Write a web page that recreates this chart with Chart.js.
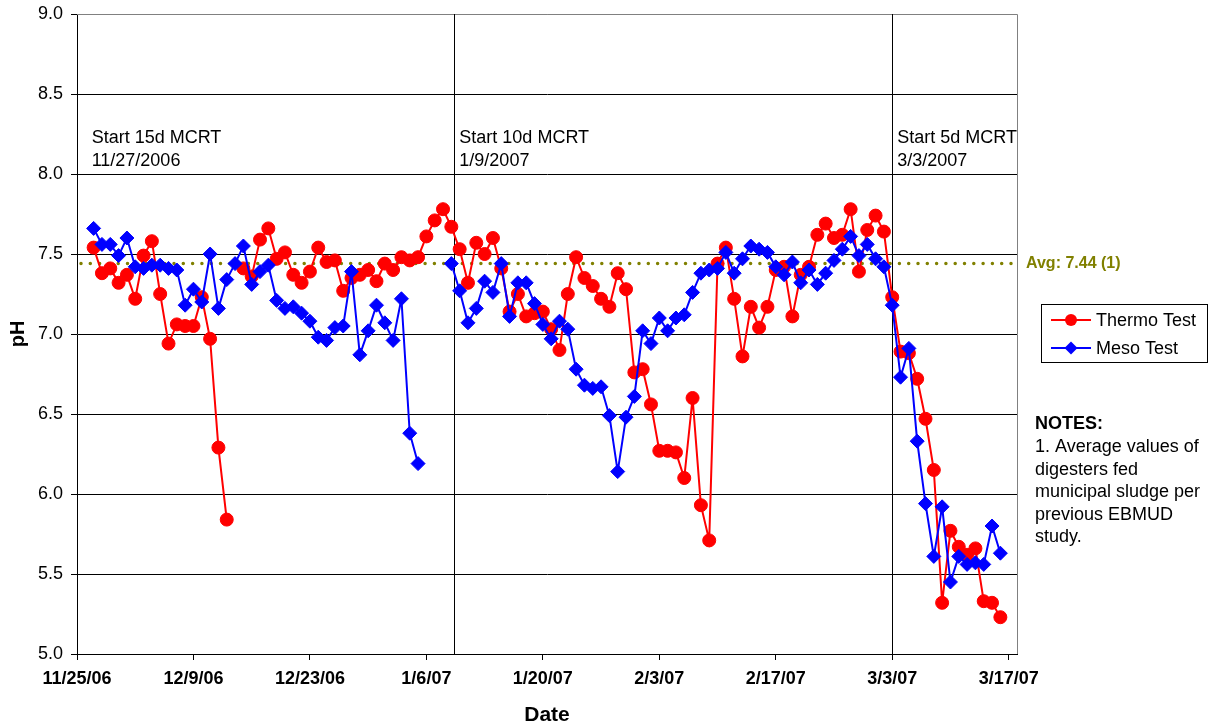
<!DOCTYPE html>
<html>
<head>
<meta charset="utf-8">
<script src="https://cdn.jsdelivr.net/npm/chart.js@4.4.0/dist/chart.umd.min.js"></script>
<style>
  body { margin: 0; background: #fff; }
  canvas { display: block; }
</style>
</head>
<body>
<canvas id="chart" width="1209" height="726"></canvas>
<script>
// sample dates (m/d/yy)
var dates = [
  '11/27/06', '11/28/06', '11/29/06', '11/30/06',
  '12/1/06', '12/2/06', '12/3/06', '12/4/06', '12/5/06', '12/6/06', '12/7/06', '12/8/06', '12/9/06', '12/10/06',
  '12/11/06', '12/12/06', '12/13/06', '12/14/06', '12/15/06', '12/16/06', '12/17/06', '12/18/06', '12/19/06', '12/20/06',
  '12/21/06', '12/22/06', '12/23/06', '12/24/06', '12/25/06', '12/26/06', '12/27/06', '12/28/06', '12/29/06', '12/30/06', '12/31/06',
  '1/1/07', '1/2/07', '1/3/07', '1/4/07', '1/5/07', '1/6/07', '1/7/07', '1/8/07', '1/9/07', '1/10/07',
  '1/11/07', '1/12/07', '1/13/07', '1/14/07', '1/15/07', '1/16/07', '1/17/07', '1/18/07', '1/19/07', '1/20/07',
  '1/21/07', '1/22/07', '1/23/07', '1/24/07', '1/25/07', '1/26/07', '1/27/07', '1/28/07', '1/29/07', '1/30/07', '1/31/07',
  '2/1/07', '2/2/07', '2/3/07', '2/4/07', '2/5/07', '2/6/07', '2/7/07', '2/8/07', '2/9/07', '2/10/07',
  '2/11/07', '2/12/07', '2/13/07', '2/14/07', '2/15/07', '2/16/07', '2/17/07', '2/18/07', '2/19/07', '2/20/07',
  '2/21/07', '2/22/07', '2/23/07', '2/24/07', '2/25/07', '2/26/07', '2/27/07', '2/28/07',
  '3/1/07', '3/2/07', '3/3/07', '3/4/07', '3/5/07', '3/6/07', '3/7/07', '3/8/07', '3/9/07', '3/10/07',
  '3/11/07', '3/12/07', '3/13/07', '3/14/07', '3/15/07', '3/16/07'
];

var thermo = [
  7.54, 7.38, 7.41, 7.32,
  7.37, 7.22, 7.49, 7.58, 7.25, 6.94, 7.06, 7.05, 7.05, 7.23,
  6.97, 6.29, 5.84, null, 7.41, 7.36, 7.59, 7.66, 7.47, 7.51,
  7.37, 7.32, 7.39, 7.54, 7.45, 7.46, 7.27, 7.35, 7.37, 7.40, 7.33,
  7.44, 7.40, 7.48, 7.46, 7.48, 7.61, 7.71, 7.78, 7.67, 7.53,
  7.32, 7.57, 7.50, 7.60, 7.41, 7.14, 7.25, 7.11, 7.13, 7.14,
  7.03, 6.90, 7.25, 7.48, 7.35, 7.30, 7.22, 7.17, 7.38, 7.28, 6.76,
  6.78, 6.56, 6.27, 6.27, 6.26, 6.10, 6.60, 5.93, 5.71, 7.44,
  7.54, 7.22, 6.86, 7.17, 7.04, 7.17, 7.40, 7.42, 7.11, 7.37,
  7.42, 7.62, 7.69, 7.60, 7.62, 7.78, 7.39, 7.65,
  7.74, 7.64, 7.23, 6.89, 6.88, 6.72, 6.47, 6.15, 5.32, 5.77,
  5.67, 5.62, 5.66, 5.33, 5.32, 5.23
];

var meso = [
  7.66, 7.56, 7.56, 7.49,
  7.60, 7.42, 7.41, 7.43, 7.43, 7.41, 7.40, 7.18, 7.28, 7.20,
  7.50, 7.16, 7.34, 7.44, 7.55, 7.31, 7.39, 7.43, 7.21, 7.16,
  7.17, 7.13, 7.08, 6.98, 6.96, 7.04, 7.05, 7.39, 6.87, 7.02, 7.18,
  7.07, 6.96, 7.22, 6.38, 6.19, null, null, null, 7.44, 7.27,
  7.07, 7.16, 7.33, 7.26, 7.44, 7.11, 7.32, 7.32, 7.19, 7.06,
  6.97, 7.08, 7.03, 6.78, 6.68, 6.66, 6.67, 6.49, 6.14, 6.48, 6.61,
  7.02, 6.94, 7.10, 7.02, 7.10, 7.12, 7.26, 7.38, 7.40, 7.41,
  7.51, 7.38, 7.47, 7.55, 7.53, 7.51, 7.42, 7.37, 7.45, 7.32,
  7.40, 7.31, 7.38, 7.46, 7.53, 7.61, 7.49, 7.56,
  7.47, 7.42, 7.18, 6.73, 6.91, 6.33, 5.94, 5.61, 5.92, 5.45,
  5.61, 5.56, 5.57, 5.56, 5.80, 5.63
];

var xTicks = ['11/25/06', '12/9/06', '12/23/06', '1/6/07', '1/20/07', '2/3/07', '2/17/07', '3/3/07', '3/17/07'];
var yTicks = [5.0, 5.5, 6.0, 6.5, 7.0, 7.5, 8.0, 8.5, 9.0];
var xStart = '11/25/06';
var xEnd = '3/18/07';

var avgValue = 7.44;
var avgLabel = 'Avg: 7.44 (1)';

// phase changes
var phaseDates = ['11/27/06', '1/9/07', '3/3/07'];
var phaseLines = [false, true, true];
var phaseTitles = ['Start 15d MCRT', 'Start 10d MCRT', 'Start 5d MCRT'];
var phaseSubtitles = ['11/27/2006', '1/9/2007', '3/3/2007'];

var notesTitle = 'NOTES:';
var notesLines = ['1. Average values of', 'digesters fed', 'municipal sludge per', 'previous EBMUD', 'study.'];

var FONT = "'Liberation Sans', Arial, Helvetica, sans-serif";

function dayNum(s) {
  var p = s.split('/');
  return Math.round(Date.UTC(2000 + Number(p[2]), Number(p[0]) - 1, Number(p[1])) / 86400000);
}

function dayLabel(v) {
  var d = new Date(v * 86400000);
  return (d.getUTCMonth() + 1) + '/' + d.getUTCDate() + '/' + String(d.getUTCFullYear()).slice(2);
}

function points(values) {
  return dates.map(function(d, i) {
    return { x: dayNum(d), y: values[i] };
  });
}

// x pixel of a phase marker (lines sit a little right of the day in the original)
function phaseX(xs, i) {
  var px = xs.getPixelForValue(dayNum(phaseDates[i]));
  return i === 1 ? px + 3 : px;
}

// extra drawing: borders, phase lines, average line, labels, legend, notes
var extras = {
  id: 'extras',
  beforeDatasetsDraw: function(chart) {
    var ctx = chart.ctx;
    var a = chart.chartArea;
    var xs = chart.scales.x;
    var ys = chart.scales.y;
    ctx.save();

    ctx.strokeStyle = '#808080';
    ctx.lineWidth = 1;
    ctx.beginPath();
    ctx.moveTo(a.left, a.top + 0.5);
    ctx.lineTo(a.right + 0.5, a.top + 0.5);
    ctx.lineTo(a.right + 0.5, a.bottom);
    ctx.stroke();

    ctx.strokeStyle = '#000';
    phaseDates.forEach(function(d, i) {
      if (!phaseLines[i]) return;
      var px = Math.round(phaseX(xs, i)) + 0.5;
      ctx.beginPath();
      ctx.moveTo(px, a.top);
      ctx.lineTo(px, a.bottom);
      ctx.stroke();
    });

    var ya = ys.getPixelForValue(avgValue);
    ctx.strokeStyle = '#808000';
    ctx.lineWidth = 3.5;
    ctx.lineCap = 'round';
    ctx.setLineDash([0, 9.3]);
    ctx.beginPath();
    ctx.moveTo(a.left + 4, ya);
    ctx.lineTo(a.right, ya);
    ctx.stroke();
    ctx.restore();
  },
  afterDraw: function(chart) {
    var ctx = chart.ctx;
    var a = chart.chartArea;
    var xs = chart.scales.x;
    var ys = chart.scales.y;
    ctx.save();

    // phase labels
    ctx.fillStyle = '#000';
    ctx.font = '18px ' + FONT;
    ctx.textBaseline = 'alphabetic';
    ctx.textAlign = 'left';
    phaseDates.forEach(function(d, i) {
      var px = phaseX(xs, i) + (phaseLines[i] ? 5 : -2);
      ctx.fillText(phaseTitles[i], px, 143);
      ctx.fillText(phaseSubtitles[i], px, 166);
    });

    // average label
    ctx.fillStyle = '#808000';
    ctx.font = 'bold 16px ' + FONT;
    ctx.textBaseline = 'middle';
    ctx.fillText(avgLabel, a.right + 9, ys.getPixelForValue(avgValue));

    // legend
    var lx = 1041.5, ly = 304.5;
    ctx.strokeStyle = '#000';
    ctx.lineWidth = 1;
    ctx.strokeRect(lx, ly, 166, 58);
    chart.data.datasets.forEach(function(ds, i) {
      var yy = 320 + i * 28;
      ctx.strokeStyle = ds.borderColor;
      ctx.lineWidth = 2;
      ctx.beginPath();
      ctx.moveTo(1051, yy);
      ctx.lineTo(1091, yy);
      ctx.stroke();
      ctx.fillStyle = ds.pointBackgroundColor;
      ctx.beginPath();
      if (ds.pointStyle === 'circle') {
        ctx.arc(1071, yy, 6, 0, Math.PI * 2);
      } else {
        ctx.moveTo(1071, yy - 6.5);
        ctx.lineTo(1077.5, yy);
        ctx.lineTo(1071, yy + 6.5);
        ctx.lineTo(1064.5, yy);
        ctx.closePath();
      }
      ctx.fill();
      ctx.fillStyle = '#000';
      ctx.font = '18px ' + FONT;
      ctx.textBaseline = 'middle';
      ctx.fillText(ds.label, 1096, yy + 1);
    });

    // notes
    ctx.fillStyle = '#000';
    ctx.textBaseline = 'alphabetic';
    ctx.font = 'bold 18px ' + FONT;
    ctx.fillText(notesTitle, 1035, 429);
    ctx.font = '18px ' + FONT;
    notesLines.forEach(function(t, i) {
      ctx.fillText(t, 1035, 452 + i * 22.5);
    });
    ctx.restore();
  }
};

var ctx = document.getElementById('chart').getContext('2d');
var chart = new Chart(ctx, {
  type: 'line',
  data: {
    datasets: [{
      label: 'Thermo Test',
      data: points(thermo),
      borderColor: '#ff0000',
      backgroundColor: '#ff0000',
      pointBackgroundColor: '#ff0000',
      pointBorderColor: '#ff0000',
      pointStyle: 'circle',
      pointRadius: 6.5,
      pointBorderWidth: 1,
      borderWidth: 2,
      order: 1
    }, {
      label: 'Meso Test',
      data: points(meso),
      borderColor: '#0000ff',
      backgroundColor: '#0000ff',
      pointBackgroundColor: '#0000ff',
      pointBorderColor: '#0000ff',
      pointStyle: 'rectRot',
      pointRadius: 7,
      pointBorderWidth: 1,
      borderWidth: 2,
      order: 0
    }]
  },
  options: {
    responsive: false,
    animation: false,
    spanGaps: false,
    layout: { padding: { left: 0, right: 192, top: 14, bottom: 0 } },
    plugins: {
      legend: { display: false },
      tooltip: { enabled: false }
    },
    scales: {
      x: {
        type: 'linear',
        min: dayNum(xStart),
        max: dayNum(xEnd),
        afterBuildTicks: function(s) {
          s.ticks = xTicks.map(function(d) { return { value: dayNum(d) }; });
        },
        afterFit: function(s) {
          s.height = 72;
          s.paddingLeft = 0;
          s.paddingRight = 0;
        },
        grid: { display: true, drawOnChartArea: false, drawTicks: true, tickLength: 6, color: '#000' },
        border: { color: '#000', width: 1 },
        ticks: {
          autoSkip: false,
          maxRotation: 0,
          padding: 8,
          color: '#000',
          font: { family: FONT, size: 18, weight: 'bold' },
          callback: function(v) { return dayLabel(v); }
        },
        title: {
          display: true,
          text: 'Date',
          color: '#000',
          padding: 0,
          font: { family: FONT, size: 21, weight: 'bold', lineHeight: 1 }
        }
      },
      y: {
        min: 5,
        max: 9,
        afterBuildTicks: function(s) {
          s.ticks = yTicks.map(function(v) { return { value: v }; });
        },
        afterFit: function(s) {
          s.width = 77;
          s.paddingTop = 0;
          s.paddingBottom = 0;
        },
        grid: {
          color: function(c) { return c.tick && c.tick.value === 9 ? '#909090' : '#000'; },
          tickColor: '#000',
          tickLength: 6
        },
        border: { color: '#000', width: 1 },
        ticks: {
          padding: 8,
          color: '#000',
          font: { family: FONT, size: 18 },
          callback: function(v) { return v.toFixed(1); }
        },
        title: {
          display: true,
          text: 'pH',
          color: '#000',
          padding: { top: 6, bottom: 0 },
          font: { family: FONT, size: 20, weight: 'bold' }
        }
      }
    }
  },
  plugins: [extras]
});
</script>
</body>
</html>
